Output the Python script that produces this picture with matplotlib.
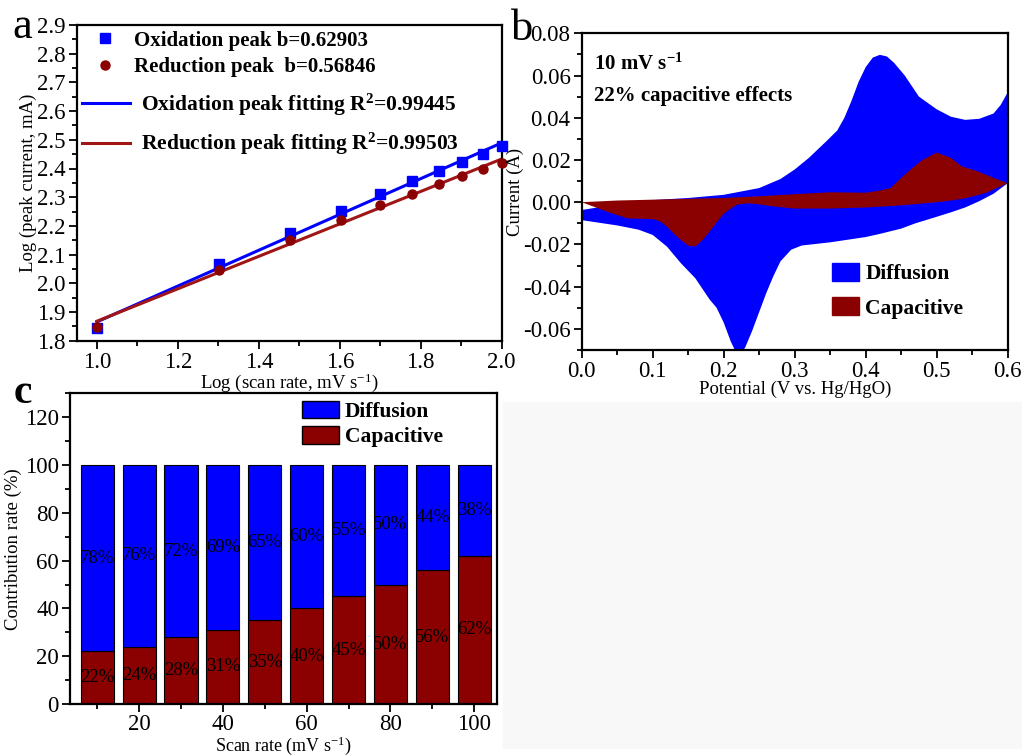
import numpy as np
import matplotlib.pyplot as plt
from matplotlib.ticker import MultipleLocator
from matplotlib.patches import Patch, Rectangle
from matplotlib.lines import Line2D

plt.rcParams['font.family'] = ['Liberation Serif', 'DejaVu Serif']
plt.rcParams['mathtext.fontset'] = 'custom'
plt.rcParams['mathtext.rm'] = 'Liberation Serif'
plt.rcParams['mathtext.bf'] = 'Liberation Serif:bold'
plt.rcParams['mathtext.it'] = 'Liberation Serif:italic'

BLUE = '#0000FF'
DRED = '#8B0000'

# ---- panel a: log(i) vs log(v)
log_scan = [1.0, 1.301, 1.477, 1.602, 1.699, 1.778, 1.845, 1.903, 1.954, 2.0]
ox_peak = [1.843, 2.066, 2.176, 2.253, 2.310, 2.356, 2.393, 2.423, 2.450, 2.478]
red_peak = [1.846, 2.048, 2.151, 2.220, 2.274, 2.311, 2.345, 2.374, 2.397, 2.420]

# ---- panel b: CV at 10 mV/s, total (diffusion) and capacitive contour
tot_up_x = [0, 0.05, 0.1, 0.15, 0.2, 0.25, 0.28, 0.3, 0.32, 0.345, 0.36, 0.37, 0.38,
            0.39, 0.40, 0.41, 0.42, 0.43, 0.44, 0.455, 0.475, 0.5, 0.52, 0.54, 0.56,
            0.58, 0.59, 0.6]
tot_up_y = [-0.0037, -0.001, 0.001, 0.002, 0.0035, 0.0067, 0.011, 0.0155, 0.021, 0.029,
            0.034, 0.040, 0.048, 0.057, 0.064, 0.0685, 0.0698, 0.069, 0.066, 0.060,
            0.050, 0.044, 0.0405, 0.039, 0.0395, 0.042, 0.046, 0.052]
tot_dn_x = [0.6, 0.58, 0.56, 0.54, 0.52, 0.5, 0.47, 0.45, 0.42, 0.4, 0.35, 0.31, 0.295,
            0.28, 0.27, 0.26, 0.25, 0.24, 0.23, 0.22, 0.21, 0.2, 0.19, 0.18, 0.17,
            0.16, 0.14, 0.12, 0.1, 0.08, 0.05, 0.02, 0]
tot_dn_y = [0.009, 0.004, 0.0005, -0.0025, -0.0048, -0.0069, -0.010, -0.0125, -0.015,
            -0.0165, -0.019, -0.0205, -0.0225, -0.028, -0.035, -0.043, -0.052, -0.061,
            -0.069, -0.073, -0.066, -0.057, -0.050, -0.046, -0.041, -0.036, -0.029,
            -0.021, -0.0155, -0.013, -0.011, -0.0095, -0.0085]
cap_up_x = [0, 0.05, 0.1, 0.15, 0.2, 0.25, 0.3, 0.35, 0.4, 0.42, 0.435, 0.45, 0.465,
            0.48, 0.5, 0.52, 0.535, 0.557, 0.58, 0.6]
cap_up_y = [0, 0.0008, 0.0012, 0.0016, 0.002, 0.0028, 0.0038, 0.0047, 0.0045, 0.0055,
            0.0067, 0.0115, 0.016, 0.020, 0.0235, 0.021, 0.017, 0.0147, 0.0115, 0.009]
cap_dn_x = [0.6, 0.57, 0.54, 0.52, 0.5, 0.45, 0.4, 0.35, 0.3, 0.27, 0.25, 0.235, 0.22,
            0.21, 0.2, 0.19, 0.18, 0.17, 0.16, 0.15, 0.14, 0.13, 0.12, 0.11, 0.1,
            0.08, 0.065, 0.04, 0.02, 0]
cap_dn_y = [0.009, 0.0045, 0.0018, 0.0008, 0.0, -0.0015, -0.0025, -0.003, -0.003,
            -0.002, -0.001, -0.0005, -0.001, -0.003, -0.0055, -0.0095, -0.014, -0.018,
            -0.021, -0.0205, -0.018, -0.015, -0.0115, -0.009, -0.008, -0.0078, -0.0077,
            -0.005, -0.0025, 0]

# ---- panel c: contribution ratios
scan_rate = [10, 20, 30, 40, 50, 60, 70, 80, 90, 100]
capacitive = [22, 24, 28, 31, 35, 40, 45, 50, 56, 62]
diffusion = [78, 76, 72, 69, 65, 60, 55, 50, 44, 38]

W, H = 1022, 756
fig = plt.figure(figsize=(W / 100, H / 100), dpi=100)
# faint grey block in the empty lower-right corner
fig.patches.append(Rectangle((503 / W, 8 / H), (W - 503) / W, (756 - 8 - 402) / H,
                             transform=fig.transFigure, color='#f8f8f8', zorder=-1))


def style(ax):
    for s in ax.spines.values():
        s.set_linewidth(1.6)
    ax.tick_params(which='both', direction='out', width=1.3, labelsize=16.5,
                   top=False, right=False, pad=2)
    ax.tick_params(which='major', length=6)
    ax.tick_params(which='minor', length=3.5)


def ax_rect(l, t, r, b):
    return [l / W, 1 - b / H, (r - l) / W, (b - t) / H]


# panel a
axa = fig.add_axes(ax_rect(76.7, 25, 501.7, 340.7))
style(axa)
axa.set_xlim(0.95, 2.0)
axa.set_ylim(1.8, 2.9)
axa.xaxis.set_major_locator(MultipleLocator(0.2))
axa.xaxis.set_minor_locator(MultipleLocator(0.1))
axa.yaxis.set_major_locator(MultipleLocator(0.1))
axa.yaxis.set_minor_locator(MultipleLocator(0.05))
xs = np.array(log_scan)
kb, cb = np.polyfit(xs, ox_peak, 1)
kr, cr = np.polyfit(xs, red_peak, 1)
axa.plot(xs, kb * xs + cb, color=BLUE, lw=2.2, zorder=2)
axa.plot(xs, kr * xs + cr, color='#A01515', lw=2.2, zorder=2)
axa.plot(xs, ox_peak, 's', color=BLUE, ms=6.5, zorder=3, clip_on=False)
axa.plot(xs, red_peak, 'o', color=DRED, ms=6.5, zorder=3, clip_on=False)
axa.set_xlabel(r'Log (scan rate, mV s$^{-1}$)', fontsize=13.5, labelpad=-1)
axa.set_ylabel('Log (peak current, mA)', fontsize=13.5, labelpad=0)
leg1 = axa.legend([Line2D([], [], ls='none', marker='s', color=BLUE, ms=6.5),
                   Line2D([], [], ls='none', marker='o', color=DRED, ms=6.5)],
                  ['Oxidation peak b=0.62903', 'Reduction peak  b=0.56846'],
                  loc='upper left', bbox_to_anchor=(0.0125, 0.982), frameon=False,
                  borderpad=0, borderaxespad=0, handlelength=2.23, handletextpad=0.25,
                  labelspacing=0.3, prop={'weight': 'bold', 'size': 15})
axa.add_artist(leg1)
axa.legend([Line2D([], [], color=BLUE, lw=2.2), Line2D([], [], color='#A01515', lw=2.2)],
           [r'Oxidation peak fitting R$^{\mathbf{2}}$=0.99445',
            r'Reduction peak fitting R$^{\mathbf{2}}$=0.99503'],
           loc='upper left', bbox_to_anchor=(0.0125, 0.788), frameon=False,
           borderpad=0, borderaxespad=0, handlelength=2.23, handletextpad=0.5,
           labelspacing=0.6, prop={'weight': 'bold', 'size': 15.5})

# panel b
axb = fig.add_axes(ax_rect(581.7, 33.3, 1007.7, 350))
style(axb)
axb.set_xlim(0, 0.6)
axb.set_ylim(-0.07, 0.08)
axb.xaxis.set_major_locator(MultipleLocator(0.1))
axb.xaxis.set_minor_locator(MultipleLocator(0.05))
axb.yaxis.set_major_locator(MultipleLocator(0.02))
axb.yaxis.set_minor_locator(MultipleLocator(0.01))
axb.yaxis.set_major_formatter(lambda v, p: f'{v:.2f}')
axb.fill(tot_up_x + tot_dn_x, tot_up_y + tot_dn_y, color=BLUE, lw=0)
axb.fill(cap_up_x + cap_dn_x, cap_up_y + cap_dn_y, color=DRED, lw=0)
axb.set_xlabel('Potential (V vs. Hg/HgO)', fontsize=13.5, labelpad=-1)
axb.set_ylabel('Current (A)', fontsize=13.5, labelpad=-1)
axb.text(0.018, 0.0627, r'10 mV s$^{\mathbf{-1}}$', fontsize=15, fontweight='bold')
axb.text(0.018, 0.0477, '22% capacitive effects', fontsize=15, fontweight='bold')
axb.legend([Patch(color=BLUE), Patch(color=DRED)], ['Diffusion', 'Capacitive'],
           loc='upper left', bbox_to_anchor=(0.5876, 0.275), frameon=False,
           borderpad=0, borderaxespad=0, handlelength=1.25, handleheight=0.9,
           handletextpad=0.3, labelspacing=0.6, prop={'weight': 'bold', 'size': 15.5})

# panel c
axc = fig.add_axes(ax_rect(70, 393.3, 497.3, 704))
style(axc)
axc.tick_params(axis='x', pad=1)
axc.set_xlim(3.5, 105.5)
axc.set_ylim(0, 130)
axc.xaxis.set_major_locator(MultipleLocator(20))
axc.xaxis.set_minor_locator(MultipleLocator(10))
axc.yaxis.set_major_locator(MultipleLocator(20))
axc.yaxis.set_minor_locator(MultipleLocator(10))
axc.bar(scan_rate, capacitive, width=7.9, color=DRED, edgecolor='black', lw=0.8)
axc.bar(scan_rate, diffusion, width=7.9, bottom=capacitive, color=BLUE,
        edgecolor='black', lw=0.8)
for x, c, d in zip(scan_rate, capacitive, diffusion):
    axc.text(x, c / 2, f'{c}%', ha='center', va='center', fontsize=13.5)
    axc.text(x, c + d / 2, f'{d}%', ha='center', va='center', fontsize=13.5)
axc.set_xlabel(r'Scan rate (mV s$^{-1}$)', fontsize=13, labelpad=0)
axc.set_ylabel('Contribution rate (%)', fontsize=13.5, labelpad=2)
axc.legend([Patch(facecolor=BLUE, edgecolor='black'), Patch(facecolor=DRED, edgecolor='black')],
           ['Diffusion', 'Capacitive'], loc='upper left', bbox_to_anchor=(0.543, 0.975),
           frameon=False, borderpad=0, borderaxespad=0, handlelength=1.7,
           handleheight=0.85, handletextpad=0.3, labelspacing=0.2,
           prop={'weight': 'bold', 'size': 15.5})

fig.text(12 / W, 1 - 38 / H, 'a', fontsize=32)
fig.text(511 / W, 1 - 40 / H, 'b', fontsize=32)
fig.text(14 / W, 1 - 403 / H, 'c', fontsize=30, fontweight='bold')

fig.savefig('out.png', dpi=100)
